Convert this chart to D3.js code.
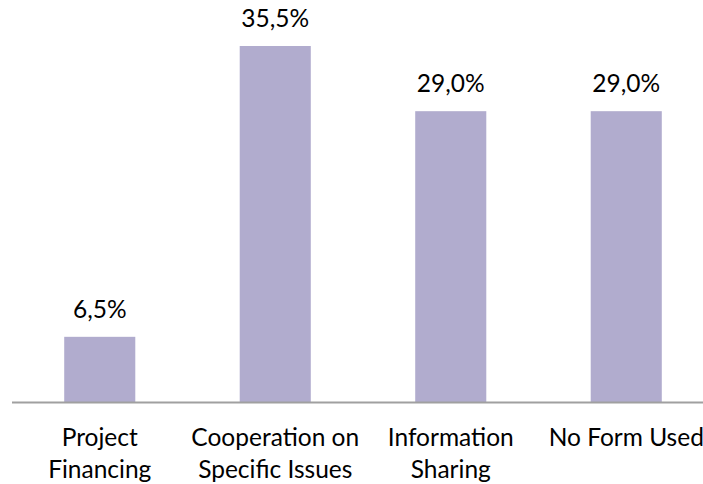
<!DOCTYPE html>
<html>
<head>
<meta charset="utf-8">
<script src="https://cdn.jsdelivr.net/npm/d3@7"></script>
<style>
  html, body { margin: 0; padding: 0; background: #fff; }
  svg { display: block; }
  text { font-family: Lato, "Open Sans", sans-serif; fill: #000; }
</style>
</head>
<body>
<svg id="chart" width="703" height="484"></svg>
<script>
// Share of respondents by form of cooperation
const categories = [
  ["Project", "Financing"],
  ["Cooperation on", "Specific Issues"],
  ["Information", "Sharing"],
  ["No Form Used"]
];
const values = [6.5, 35.5, 29.0, 29.0];
const valueLabels = ["6,5%", "35,5%", "29,0%", "29,0%"];

const width = 703, height = 484;
const baseline = 402;
const svg = d3.select("#chart");

const keys = categories.map(c => c.join(" "));

const x = d3.scaleBand()
  .domain(keys)
  .range([12, 714])
  .paddingInner(0.595)
  .paddingOuter(0.2975);

const y = d3.scaleLinear()
  .domain([0, 35.5])
  .range([baseline, 46]);

const fontSize = 24.5;

// bars
svg.append("g")
  .selectAll("rect")
  .data(values)
  .join("rect")
  .attr("x", (d, i) => x(keys[i]))
  .attr("width", x.bandwidth())
  .attr("y", d => y(d))
  .attr("height", d => baseline - y(d))
  .attr("fill", "#b1acce");

// value labels above bars
svg.append("g")
  .selectAll("text")
  .data(values)
  .join("text")
  .attr("x", (d, i) => x(keys[i]) + x.bandwidth() / 2)
  .attr("y", d => y(d) - 19)
  .attr("text-anchor", "middle")
  .style("font-size", fontSize + "px")
  .text((d, i) => valueLabels[i]);

// category axis line
svg.append("line")
  .attr("x1", 12).attr("x2", width)
  .attr("y1", baseline + 0.5).attr("y2", baseline + 0.5)
  .attr("stroke", "#a0a0a0")
  .attr("stroke-width", 2);

// category labels (wrapped)
const cat = svg.append("g")
  .selectAll("text")
  .data(categories)
  .join("text")
  .attr("x", (d, i) => x(keys[i]) + x.bandwidth() / 2)
  .attr("y", 446)
  .attr("text-anchor", "middle")
  .style("font-size", fontSize + "px");

cat.selectAll("tspan")
  .data(d => d)
  .join("tspan")
  .attr("x", function() { return d3.select(this.parentNode).attr("x"); })
  .attr("dy", (d, i) => i === 0 ? 0 : 32)
  .text(d => d);
</script>
</body>
</html>
